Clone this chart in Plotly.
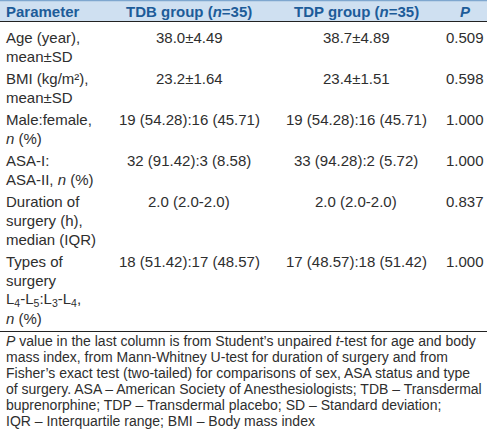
import plotly.graph_objects as go

# ---- data ----
headers = ["Parameter", "TDB group (<i>n</i>=35)", "TDP group (<i>n</i>=35)", "<i>P</i>"]
parameters = [
    ["Age (year),", "mean±SD"],
    ["BMI (kg/m²),", "mean±SD"],
    ["Male:female,", "<i>n</i> (%)"],
    ["ASA-I:", "ASA-II, <i>n</i> (%)"],
    ["Duration of", "surgery (h),", "median (IQR)"],
    ["Types of", "surgery", "L<sub>4</sub>-L<sub>5</sub>:L<sub>3</sub>-L<sub>4</sub>,", "<i>n</i> (%)"],
]
tdb_values = ["38.0±4.49", "23.2±1.64", "19 (54.28):16 (45.71)", "32 (91.42):3 (8.58)",
              "2.0 (2.0-2.0)", "18 (51.42):17 (48.57)"]
tdp_values = ["38.7±4.89", "23.4±1.51", "19 (54.28):16 (45.71)", "33 (94.28):2 (5.72)",
              "2.0 (2.0-2.0)", "17 (48.57):18 (51.42)"]
p_values = ["0.509", "0.598", "1.000", "1.000", "0.837", "1.000"]
footnote_lines = [
    "<i>P</i> value in the last column is from Student’s unpaired <i>t</i>-test for age and body",
    "mass index, from Mann-Whitney U-test for duration of surgery and from",
    "Fisher’s exact test (two-tailed) for comparisons of sex, ASA status and type",
    "of surgery. ASA – American Society of Anesthesiologists; TDB – Transdermal",
    "buprenorphine; TDP – Transdermal placebo; SD – Standard deviation;",
    "IQR – Interquartile range; BMI – Body mass index",
]

# ---- layout ----
W, H = 487, 435
FONT = "Liberation Sans, Arial, sans-serif"
TXT = "#2e2e2e"
head_color = "#1d5c99"
col_x = [4, 189, 356, 465]
line_h = 19
row_gap = 3
first_line_y = 37

fig = go.Figure()
shapes = [
    dict(type="rect", x0=0, x1=W, y0=0, y1=21, fillcolor="#cfe0f1", line=dict(width=0), layer="below"),
    dict(type="line", x0=0, x1=W, y0=0.5, y1=0.5, line=dict(color="#7fa7cf", width=1.5)),
    dict(type="line", x0=0, x1=W, y0=21.5, y1=21.5, line=dict(color="#222222", width=1)),
    dict(type="line", x0=0, x1=W, y0=331.5, y1=331.5, line=dict(color="#222222", width=1)),
]
ann = []


def add(x, y, text, anchor="center", size=15, color=TXT):
    ann.append(dict(x=x, y=y, text=text, xanchor=anchor, yanchor="middle", showarrow=False,
                    align=anchor if anchor != "center" else "center",
                    font=dict(family=FONT, size=size, color=color)))


for i, h in enumerate(headers):
    add(col_x[i], 11.5, "<b>%s</b>" % h, "left" if i == 0 else "center", 15, head_color)

y = first_line_y
for r, lines in enumerate(parameters):
    for k, line in enumerate(lines):
        add(col_x[0], y + k * line_h, line, "left")
    add(col_x[1], y, tdb_values[r])
    add(col_x[2], y, tdp_values[r])
    add(col_x[3], y, p_values[r])
    y += len(lines) * line_h + row_gap

for k, line in enumerate(footnote_lines):
    add(4, 341 + k * 16, line, "left", 14)

fig.update_layout(
    width=W, height=H, margin=dict(l=0, r=0, t=0, b=0),
    paper_bgcolor="white", plot_bgcolor="white",
    xaxis=dict(range=[0, W], visible=False, fixedrange=True),
    yaxis=dict(range=[H, 0], visible=False, fixedrange=True),
    shapes=shapes, annotations=ann, showlegend=False,
)
fig.write_html("out.html", config={"displayModeBar": False},
               post_script="document.body.style.margin='0px';")
